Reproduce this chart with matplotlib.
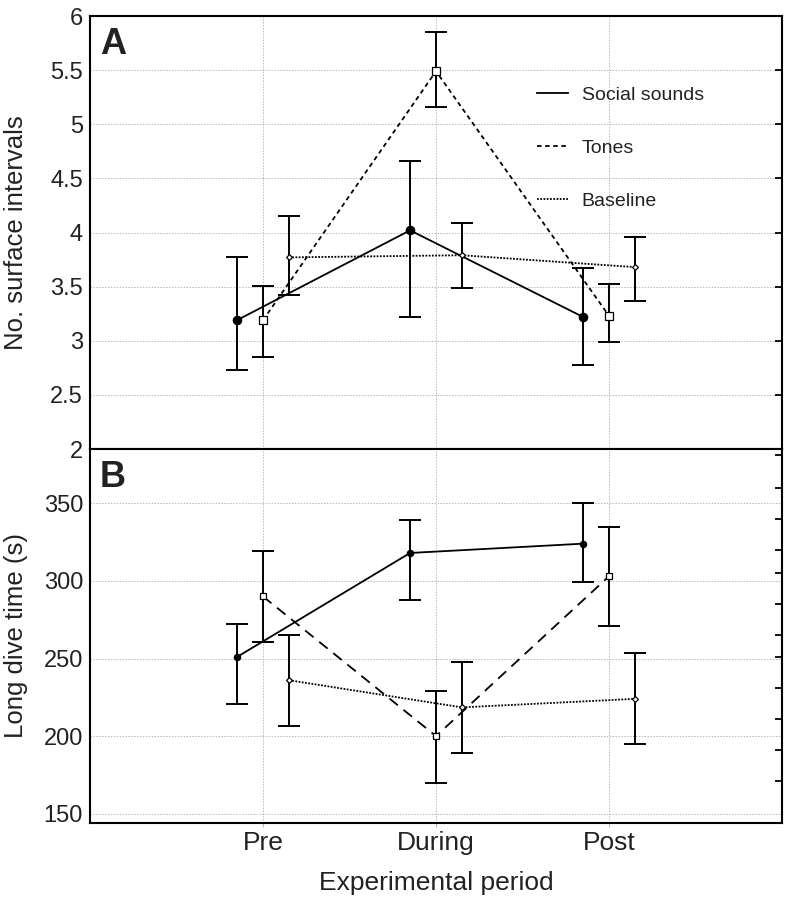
import numpy as np
import matplotlib
matplotlib.use("Agg")
import matplotlib.pyplot as plt
from matplotlib.ticker import FormatStrFormatter

plt.rcParams['font.family'] = ['Liberation Sans', 'DejaVu Sans']
plt.rcParams['text.color'] = '#222222'
plt.rcParams['axes.labelcolor'] = '#222222'
plt.rcParams['xtick.labelcolor'] = '#222222'
plt.rcParams['ytick.labelcolor'] = '#222222'

periods = ['Pre', 'During', 'Post']
series = ['Social sounds', 'Tones', 'Baseline']

# panel A: number of surface intervals (mean, lower, upper)
social_a = [3.19, 4.02, 3.22]
social_a_lo = [2.73, 3.22, 2.78]
social_a_hi = [3.77, 4.66, 3.67]
tones_a = [3.19, 5.49, 3.23]
tones_a_lo = [2.85, 5.16, 2.99]
tones_a_hi = [3.51, 5.85, 3.52]
base_a = [3.77, 3.79, 3.68]
base_a_lo = [3.42, 3.49, 3.37]
base_a_hi = [4.15, 4.09, 3.96]

# panel B: long dive time (s)
social_b = [251, 318, 324]
social_b_lo = [221, 288, 299]
social_b_hi = [272, 339, 350]
tones_b = [290, 200, 303]
tones_b_lo = [260.5, 170, 271]
tones_b_hi = [319, 229, 335]
base_b = [236, 218.5, 224]
base_b_lo = [206.5, 189, 195]
base_b_hi = [265, 248, 253.5]

fig = plt.figure(figsize=(7.86, 8.99), dpi=100)
L, R = 90 / 786, 782 / 786
axA = fig.add_axes([L, 1 - 449 / 899, R - L, 433 / 899])
axB = fig.add_axes([L, 1 - 823 / 899, R - L, 374 / 899])

x = np.arange(1, 4)
off = 0.15


def draw(ax, vals, lo, hi, xs, ls, marker, ms, mfc, label, elw=1.4):
    vals = np.array(vals); lo = np.array(lo); hi = np.array(hi)
    ax.plot(xs, vals, color='black', ls=ls, lw=1.3, label=label, zorder=3)
    ax.errorbar(xs, vals, yerr=[vals - lo, hi - vals], fmt='none', ecolor='black',
                elinewidth=elw, capsize=8, capthick=elw, zorder=4)
    ax.plot(xs, vals, ls='none', marker=marker, ms=ms, mfc=mfc, mec='black',
            mew=0.9, zorder=5)


# panel A
draw(axA, social_a, social_a_lo, social_a_hi, x - off, '-', 'o', 6, 'black', series[0])
draw(axA, tones_a, tones_a_lo, tones_a_hi, x, (0, (2.5, 2)), 's', 5.5, 'white', series[1])
draw(axA, base_a, base_a_lo, base_a_hi, x + off, (0, (1, 0.8)), 'D', 3, 'white', series[2])

# panel B
draw(axB, social_b, social_b_lo, social_b_hi, x - off, '-', 'o', 4.5, 'black', series[0])
draw(axB, tones_b, tones_b_lo, tones_b_hi, x, (0, (6, 4)), 's', 5, 'white', series[1])
draw(axB, base_b, base_b_lo, base_b_hi, x + off, (0, (1, 0.8)), 'D', 3, 'white', series[2])

for ax in (axA, axB):
    ax.set_xlim(0, 4)
    ax.set_xticks(x)
    ax.grid(True, color='#b8b8b8', ls=(0, (1.5, 1.5)), lw=0.7)
    ax.set_axisbelow(True)
    for s in ax.spines.values():
        s.set_linewidth(1.5)
        s.set_color('black')
    ax.tick_params(axis='y', labelsize=17, length=0, pad=5)
    ax.tick_params(axis='x', length=3, color='#b8b8b8', labelsize=19, pad=3)
    ax.yaxis.set_label_coords(-0.09, 0.5)

axA.set_ylim(2, 6)
axA.set_yticks(np.arange(2, 6.01, 0.5))
axA.yaxis.set_major_formatter(FormatStrFormatter('%g'))
axA.set_xticklabels([])
axA.set_ylabel('No. surface intervals', fontsize=18.5)
axA.text(0.014, 0.975, 'A', transform=axA.transAxes, fontsize=26,
         fontweight='bold', ha='left', va='top')

axB.set_ylim(144, 385)
axB.set_yticks([150, 200, 250, 300, 350])
axB.set_xticklabels(periods)
axB.set_ylabel('Long dive time (s)', fontsize=18.5)
axB.set_xlabel('Experimental period', fontsize=19, labelpad=11)
axB.text(0.014, 0.97, 'B', transform=axB.transAxes, fontsize=26,
         fontweight='bold', ha='left', va='top')

# inward ticks on the right spine
for ax, ticks in ((axA, np.arange(2.5, 6, 0.5)),
                  (axB, [381, 360, 340, 320, 305, 285, 265, 251, 231, 211, 191, 171])):
    tw = ax.twinx()
    tw.set_ylim(ax.get_ylim())
    tw.set_yticks(ticks)
    tw.set_yticklabels([])
    tw.tick_params(axis='y', direction='in', length=5, width=1.3)
    for s in tw.spines.values():
        s.set_visible(False)

leg = axA.legend(loc='upper left', bbox_to_anchor=(0.646, 0.838), frameon=False,
                 fontsize=14, handlelength=1.6, handletextpad=0.7,
                 labelspacing=1.82, borderpad=0, borderaxespad=0)

fig.savefig('out.png', dpi=100)
